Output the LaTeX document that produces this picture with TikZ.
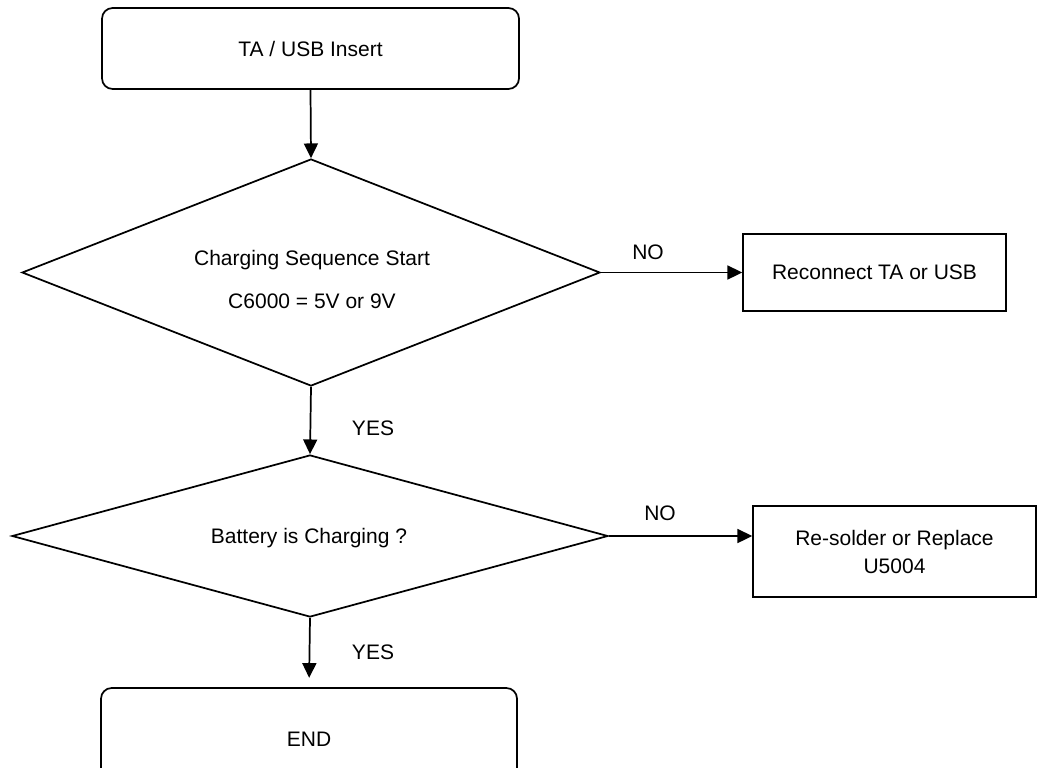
\documentclass[tikz,border=0pt]{standalone}
\usepackage{fontspec}
\setmainfont{Liberation Sans}
\usetikzlibrary{arrows.meta,shapes.geometric}
\begin{document}
\begin{tikzpicture}[x=0.75pt,y=-0.75pt,
  every node/.style={font=\fontsize{15.75pt}{21pt}\selectfont},
  ln/.style={line width=1.3pt},
  term/.style={draw,ln,rounded corners=8pt,inner sep=0pt},
  proc/.style={draw,ln,inner sep=0pt,align=center},
  dec/.style={draw,ln,diamond,inner sep=0pt},
  lbl/.style={inner sep=0pt},
  arr/.style={ln,-{Triangle[length=11pt,width=10.5pt]}}]
\useasboundingbox (0,0) rectangle (1037,767);
\clip (0,0) rectangle (1037,767);
\node[term,minimum width=312.75pt,minimum height=60.75pt] (start) at (310.5,48.5) {TA / USB Insert};
\node[dec,minimum width=433.5pt,minimum height=170.25pt] (d1) at (311,272.5) {};
\node[lbl,align=center,font=\fontsize{15.75pt}{32.25pt}\selectfont] (d1t) at (312,279) {Charging Sequence Start\\C6000 = 5V or 9V};
\node[proc,minimum width=197.25pt,minimum height=57.75pt] (b1) at (874.5,272.5) {Reconnect TA or USB};
\node[dec,minimum width=447pt,minimum height=121.5pt] (d2) at (310,536) {};
\node[lbl] (d2t) at (309,538) {Battery is Charging ?};
\node[proc,minimum width=212.25pt,minimum height=68.25pt] (b2) at (894.5,551.5) {Re-solder or Replace\\U5004};
\node[term,minimum width=312pt,minimum height=76.5pt] (end) at (309,739) {END};
\node[lbl] (no1) at (648,252) {NO};
\node[lbl] (no2) at (660,513) {NO};
\node[lbl] (yes1) at (373,428) {YES};
\node[lbl] (yes2) at (373,652) {YES};
\draw[arr] (start.south) -- (d1.north);
\draw[arr] (d1.east) -- (b1.west);
\draw[arr] (d1.south) -- (d2.north);
\draw[arr] (d2.east) -- (d2.east -| b2.west);
\draw[arr,shorten >=7pt] (d2.south) -- (end.north);
\end{tikzpicture}
\end{document}
